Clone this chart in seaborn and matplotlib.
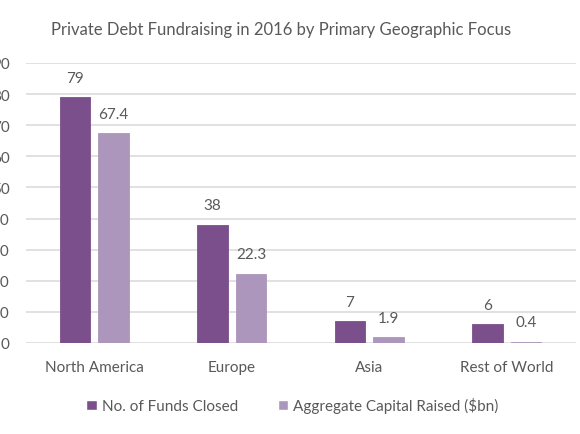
import matplotlib
matplotlib.use("Agg")
import matplotlib.pyplot as plt
import seaborn as sns
import pandas as pd
import numpy as np

# data
regions = ["North America", "Europe", "Asia", "Rest of World"]
funds_closed = [79, 38, 7, 6]
capital_raised = [67.4, 22.3, 1.9, 0.4]
series_names = ["No. of Funds Closed", "Aggregate Capital Raised ($bn)"]
value_labels = [["79", "38", "7", "6"], ["67.4", "22.3", "1.9", "0.4"]]
y_ticks = list(range(0, 100, 10))

df = pd.DataFrame({
    "region": regions * 2,
    "series": [series_names[0]] * 4 + [series_names[1]] * 4,
    "value": funds_closed + capital_raised,
})

sns.set_theme(style="whitegrid")
plt.rcParams["font.family"] = ["Lato", "DejaVu Sans"]
text_col = "#595959"
palette = {series_names[0]: "#7B4F8B", series_names[1]: "#AD96BC"}

fig = plt.figure(figsize=(5.8, 4.35), dpi=100)
ax = fig.add_axes([25.5 / 580, 91 / 435, 550 / 580, 280.1 / 435])

sns.barplot(data=df, x="region", y="value", hue="series", order=regions,
            hue_order=series_names, palette=palette, width=0.56, gap=0.2,
            saturation=1, ax=ax, legend=True)

# thin edge in the bar colour so the tiny 0.4 bar still shows as a line
for cont in ax.containers:
    for bar in cont:
        bar.set_edgecolor(bar.get_facecolor())
        bar.set_linewidth(0.6)

# value labels above each bar
for cont, labs in zip(ax.containers, value_labels):
    ax.bar_label(cont, labels=labs, padding=9, fontsize=11, color=text_col)

ax.set_ylim(0, 90)
ax.set_xlim(-0.5, 3.5)
ax.set_yticks(y_ticks)
ax.set_xlabel("")
ax.set_ylabel("")
ax.grid(axis="y", color="#D9D9D9", linewidth=1.1)
ax.grid(axis="x", visible=False)
ax.set_axisbelow(True)
for s in ax.spines.values():
    s.set_visible(False)
ax.tick_params(axis="y", length=0, pad=11.5, labelsize=11, labelcolor=text_col)
ax.tick_params(axis="x", length=0, pad=12, labelsize=11, labelcolor=text_col)

fig.text(281 / 580, 1 - 30 / 435,
         "Private Debt Fundraising in 2016 by Primary Geographic Focus",
         fontsize=12, color=text_col, ha="center", va="center")

ax.legend(loc="upper center", bbox_to_anchor=(0.485, -0.145), ncol=2, frameon=False,
          fontsize=11, handlelength=0.7, handleheight=0.7, handletextpad=0.3,
          columnspacing=2.6, labelcolor=text_col)

fig.savefig("out.png", dpi=100)
